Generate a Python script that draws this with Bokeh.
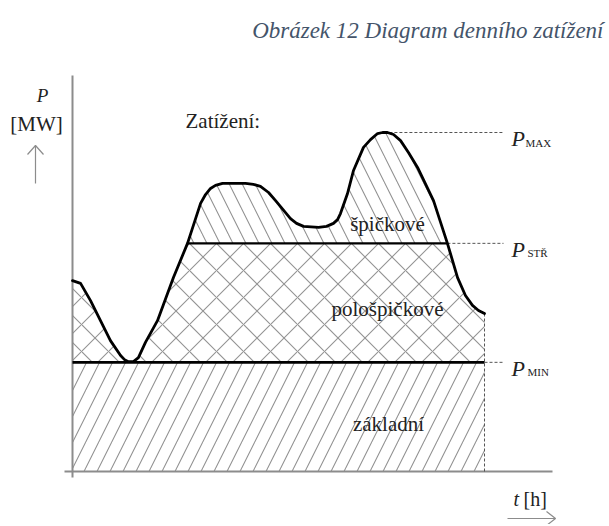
from bokeh.plotting import figure
from bokeh.models import Label, Range1d
from bokeh.embed import file_html
from bokeh.resources import INLINE
import numpy as np

# ---- data (hours of day, load in MW, relative units) ----
hours = [0.0, 0.47, 1.05, 1.63, 2.21, 2.80, 3.03, 3.26, 3.55, 3.84, 4.25, 4.95,
         5.88, 6.70, 7.46, 7.75, 8.04, 8.33, 8.74, 10.08, 10.54, 10.95, 11.42,
         11.83, 12.70, 13.05, 13.46, 14.33, 14.80, 15.20, 15.44, 15.61, 16.02,
         16.37, 16.95, 17.36, 17.77, 18.06, 18.35, 18.70, 19.11, 19.57, 20.10,
         21.03, 21.84, 22.43, 22.89, 23.30, 23.65, 24.0]
load = [56.3, 55.5, 50.4, 44.5, 38.6, 34.2, 33.0, 32.4, 32.4, 33.6, 38.1, 44.5,
        57.2, 67.3, 79.1, 81.7, 83.5, 84.4, 85.0, 85.0, 84.7, 84.1, 82.3,
        79.9, 74.6, 73.2, 72.3, 72.0, 72.3, 73.2, 74.3, 76.1, 82.0,
        88.8, 95.6, 97.9, 99.7, 100.0, 100.0, 99.4, 97.6, 94.1, 89.7,
        79.9, 67.3, 57.2, 51.9, 49.0, 47.5, 46.6]
P_MAX = 100.0
P_STR = 67.3
P_MIN = 32.2
T_END = 24.0

level_names = ["MAX", "STŘ", "MIN"]
region_labels = ["špičkové", "pološpičkové", "základní"]

# ---- layout ----
W, H = 608, 524
SX = 17.1667   # px per hour
SY = 3.39      # px per MW
x0 = -72 / SX
x1 = x0 + W / SX
y1 = 471 / SY
y0 = y1 - H / SY

def tx(px):
    return x0 + px / SX

def py(px):
    return y1 - px / SY

p = figure(width=W, height=H, output_backend="svg", toolbar_location=None,
           x_range=Range1d(x0, x1), y_range=Range1d(y0, y1),
           x_axis_location=None, y_axis_location=None, min_border=0)
p.outline_line_color = None
p.xgrid.visible = False
p.ygrid.visible = False

h = np.array(hours)
l = np.array(load)

HATCH = "#939393"
# base region
p.varea(x=[0, T_END], y1=[0, 0], y2=[P_MIN, P_MIN], fill_alpha=0,
        hatch_pattern="/", hatch_color=HATCH, hatch_scale=26, hatch_weight=1.1)
# semi-peak region
p.varea(x=h, y1=np.full_like(h, P_MIN), y2=np.minimum(l, P_STR), fill_alpha=0,
        hatch_pattern="x", hatch_color=HATCH, hatch_scale=27, hatch_weight=1.1)
# peak region
p.varea(x=h, y1=np.full_like(h, P_STR), y2=np.maximum(l, P_STR), fill_alpha=0,
        hatch_pattern="\\", hatch_color=HATCH, hatch_scale=26, hatch_weight=1.1)

# axes
AX = "#8c8c8c"
p.line([0, 0], [py(477), py(75)], line_color=AX, line_width=2)
p.line([tx(64), tx(552)], [0, 0], line_color=AX, line_width=2)

# dashed guide lines
DC = "#555555"
i_peak = int(np.argmax(l))
str_idx = [i for i, v in enumerate(load) if v == P_STR]
t_str_a, t_str_b = hours[str_idx[0]], hours[str_idx[-1]]
dash_end = tx(503)
p.line([hours[i_peak] + 0.4, dash_end], [P_MAX, P_MAX], line_color=DC, line_width=1, line_dash="3 2")
p.line([t_str_b, dash_end], [P_STR, P_STR], line_color=DC, line_width=1, line_dash="3 2")
p.line([T_END, dash_end], [P_MIN, P_MIN], line_color=DC, line_width=1, line_dash="3 2")
p.line([T_END, T_END], [0, load[-1]], line_color=DC, line_width=1, line_dash="3 2")

# level lines
p.line([0, T_END], [P_MIN, P_MIN], line_color="black", line_width=2.6)
p.line([t_str_a, t_str_b], [P_STR, P_STR], line_color="black", line_width=2.2)

# load curve
p.line(h, l, line_color="black", line_width=2.8, line_join="round", line_cap="round")

# arrows
ARC = "#8c8c8c"
p.line([tx(35), tx(35)], [py(183), py(145)], line_color=ARC, line_width=1.2)
p.line([tx(27), tx(35), tx(43)], [py(154), py(145), py(154)], line_color=ARC, line_width=1.2)
p.line([tx(507), tx(555)], [py(518), py(518)], line_color=ARC, line_width=1.2)
p.line([tx(546), tx(555), tx(546)], [py(511), py(518), py(525)], line_color=ARC, line_width=1.2)

SERIF = "Liberation Serif"
TC = "#222222"

def lab(text, x, y, size, align="left", style="normal", color=TC):
    p.add_layout(Label(x=x, y=y, text=text, text_font=SERIF, text_font_size=f"{size}px",
                       text_align=align, text_baseline="alphabetic",
                       text_font_style=style, text_color=color))

# title
lab("Obrázek 12 Diagram denního zatížení", tx(603), py(30), 23, align="right",
    style="italic", color="#44546A")

# y label
lab("P", tx(42), py(95), 19, align="center", style="italic")
lab("[MW]", tx(36), py(123), 21, align="center")
lab("Zatížení:", tx(185), py(120), 21)

# region labels
lab(region_labels[0], tx(387), py(223), 21, align="center")
lab(region_labels[1], tx(387), py(308), 21, align="center")
lab(region_labels[2], tx(388), py(423), 21, align="center")

# level labels
for name, lev, sub_x in zip(level_names, [P_MAX, P_STR, P_MIN], [525, 527, 527]):
    lab("P", tx(511), lev - 6 / SY, 22, style="italic")
    lab(name, tx(sub_x), lev - 10 / SY, 11)

# x label
lab("t", tx(513), py(498), 20, style="italic")
lab("[h]", tx(523), py(498), 20)

open("out.html", "w").write(file_html(p, INLINE))
